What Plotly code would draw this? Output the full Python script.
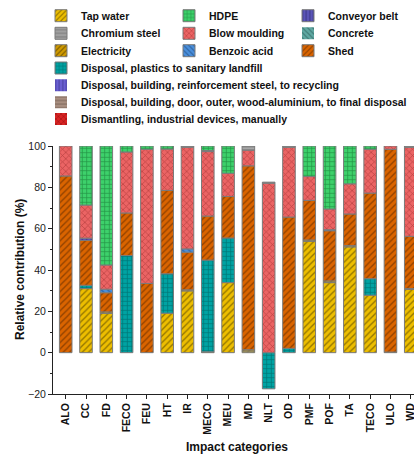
import plotly.graph_objects as go

categories = ["ALO", "CC", "FD", "FECO", "FEU", "HT", "IR", "MECO", "MEU", "MD",
              "NLT", "OD", "PMF", "POF", "TA", "TECO", "ULO", "WD"]

tap_water = [0, 31, 19, 0, 0, 19.1, 29.9, 0, 33.9, 0.8, 0, 0, 53.9, 33.9, 51.2, 27.8, 0, 30.6]
electricity = [0, 0, 0.7, 0, 0, 0, 0.5, 0.4, 0, 0.6, 0, 0, 0.6, 0.8, 0.6, 0, 0.3, 0.4]
disposal_plastics = [0, 1.6, 0, 47, 0, 19.1, 0, 44.4, 21.6, 0, -17.5, 2.1, 0, 0, 0, 8, 0, 0]
shed = [85.5, 21.7, 9.3, 20.6, 33.5, 40.3, 18.2, 21.3, 20.1, 89, 0, 63.5, 19.2, 24.3, 15.3, 41.4, 98.1, 25.3]
benzoic_acid = [0, 0, 1.7, 0, 0, 0, 1.6, 0, 0, 0, 0, 0, 0, 0.5, 0, 0, 0, 0]
conveyor_belt = [0, 1.1, 0, 0, 0, 0, 0, 0, 0, 0, 0, 0, 0, 0, 0, 0, 0, 0]
blow_moulding = [14.5, 16, 11.7, 29.5, 64.9, 20, 49.2, 31.2, 11.2, 7.6, 82, 33.8, 11.5, 10, 14.6, 21.2, 1.6, 43.1]
chromium_steel = [0, 0, 0, 0, 0, 0, 0.6, 0.5, 0, 2, 0.5, 0.6, 0, 0, 0, 0, 0, 0.6]
hdpe = [0, 28.6, 57.6, 2.9, 1.6, 1.5, 0, 2.2, 13.2, 0, 0, 0, 14.8, 30.5, 18.3, 1.6, 0, 0]
concrete = [0] * 18
disposal_steel = [0] * 18
disposal_door = [0] * 18
dismantling = [0] * 18

series = [
    ("Tap water", tap_water),
    ("Electricity", electricity),
    ("Disposal, plastics to sanitary landfill", disposal_plastics),
    ("Shed", shed),
    ("Benzoic acid", benzoic_acid),
    ("Conveyor belt", conveyor_belt),
    ("Blow moulding", blow_moulding),
    ("Chromium steel", chromium_steel),
    ("HDPE", hdpe),
    ("Concrete", concrete),
    ("Disposal, building, reinforcement steel, to recycling", disposal_steel),
    ("Disposal, building, door, outer, wood-aluminium, to final disposal", disposal_door),
    ("Dismantling, industrial devices, manually", dismantling),
]

styles = {
    "Tap water": ("#EDBE00", "/", "#3a2e00"),
    "Chromium steel": ("#8c8c8c", "-", "#d0d0d0"),
    "Electricity": ("#D09A00", "/", "#2a1e00"),
    "Disposal, plastics to sanitary landfill": ("#00A3A3", "+", "#004848"),
    "Disposal, building, reinforcement steel, to recycling": ("#6A5FD2", "|", "#2a2370"),
    "Disposal, building, door, outer, wood-aluminium, to final disposal": ("#A88E80", "-", "#5a463c"),
    "Dismantling, industrial devices, manually": ("#D82424", "x", "#6a0000"),
    "HDPE": ("#3DD16B", "+", "#0b5a24"),
    "Blow moulding": ("#EB6464", "x", "#8a1f1f"),
    "Benzoic acid": ("#4A8FDC", "\\", "#163a66"),
    "Conveyor belt": ("#5B55B8", "|", "#1e1a5a"),
    "Concrete": ("#5FA8A2", "\\", "#1f4c48"),
    "Shed": ("#DA6400", "/", "#4a2000"),
}

# legend placement in the window: (text x px, row centre y px)
legend_pos = {
    "Tap water": (81, 15.7),
    "HDPE": (209, 15.7),
    "Conveyor belt": (328, 15.7),
    "Chromium steel": (81, 33.3),
    "Blow moulding": (209, 33.3),
    "Concrete": (328, 33.3),
    "Electricity": (81, 50.7),
    "Benzoic acid": (209, 50.7),
    "Shed": (328, 50.7),
    "Disposal, plastics to sanitary landfill": (81, 68),
    "Disposal, building, reinforcement steel, to recycling": (81, 85.3),
    "Disposal, building, door, outer, wood-aluminium, to final disposal": (81, 102.3),
    "Dismantling, industrial devices, manually": (81, 119),
}

W, H = 414, 454
FONT = "Liberation Sans, Arial, sans-serif"

fig = go.Figure()
layout_legends = {}
for i, (name, vals) in enumerate(series):
    color, shape, fg = styles[name]
    lname = "legend" if i == 0 else f"legend{i + 1}"
    xs = [c for c, v in zip(categories, vals) if v != 0]
    ys = [v for v in vals if v != 0]
    if not xs:
        xs, ys = [categories[0]], [0]
    fig.add_trace(go.Bar(
        name=name,
        x=xs,
        y=ys,
        width=0.62,
        marker=dict(color=color, line=dict(color="#7a7a7a", width=1 if any(vals) else 0),
                    pattern=dict(shape=shape, fgcolor=fg, size=4.5, solidity=0.3)),
        legend=lname,
        showlegend=True,
    ))
    tx, ty = legend_pos[name]
    layout_legends[lname] = dict(
        x=(tx - 40) / W, y=1 - ty / H, xref="container", yref="container",
        xanchor="left", yanchor="middle", bgcolor="rgba(0,0,0,0)",
        font=dict(family=FONT, size=10.5, color="#111111", weight="bold"),
        borderwidth=0, itemclick=False,
    )

fig.update_layout(
    **layout_legends,
    barmode="relative",
    width=W, height=H,
    margin=dict(l=53, r=0, t=146, b=60, autoexpand=False),
    plot_bgcolor="white", paper_bgcolor="white",
    font=dict(family=FONT, color="#111111"),
    annotations=[
        dict(text="<b>Impact categories</b>", xref="paper", yref="paper",
             x=0.511, y=0, yshift=-53, xanchor="center", yanchor="middle",
             showarrow=False, font=dict(family=FONT, size=12, color="#111")),
        dict(text="<b>Relative contribution (%)</b>", xref="paper", yref="paper",
             x=0, y=0.5, xshift=-33, xanchor="center", yanchor="middle", textangle=-90,
             showarrow=False, font=dict(family=FONT, size=12, color="#111")),
    ],
)

fig.update_xaxes(
    type="category", categoryorder="array", categoryarray=categories,
    range=[-0.626, 17.16], showline=True, linecolor="#222", linewidth=1,
    ticks="outside", ticklen=4, tickcolor="#222", tickangle=-90,
    tickfont=dict(family=FONT, size=10.5, color="#111", weight="bold"),
    showgrid=False, zeroline=False, automargin=False,
)
fig.update_yaxes(
    range=[-20, 100], dtick=20, showline=True, linecolor="#222", linewidth=1,
    ticks="outside", ticklen=4, tickcolor="#222",
    minor=dict(dtick=10, ticks="outside", ticklen=2, tickcolor="#222"),
    tickfont=dict(family=FONT, size=10.5, color="#222"),
    showgrid=False, zeroline=False, automargin=False,
)

# remove the default page margin so the 414x454 figure fills the window exactly
fig.write_html(
    "out.html",
    config={"displayModeBar": False},
    post_script="document.body.style.margin='0';document.body.style.overflow='hidden';",
)
